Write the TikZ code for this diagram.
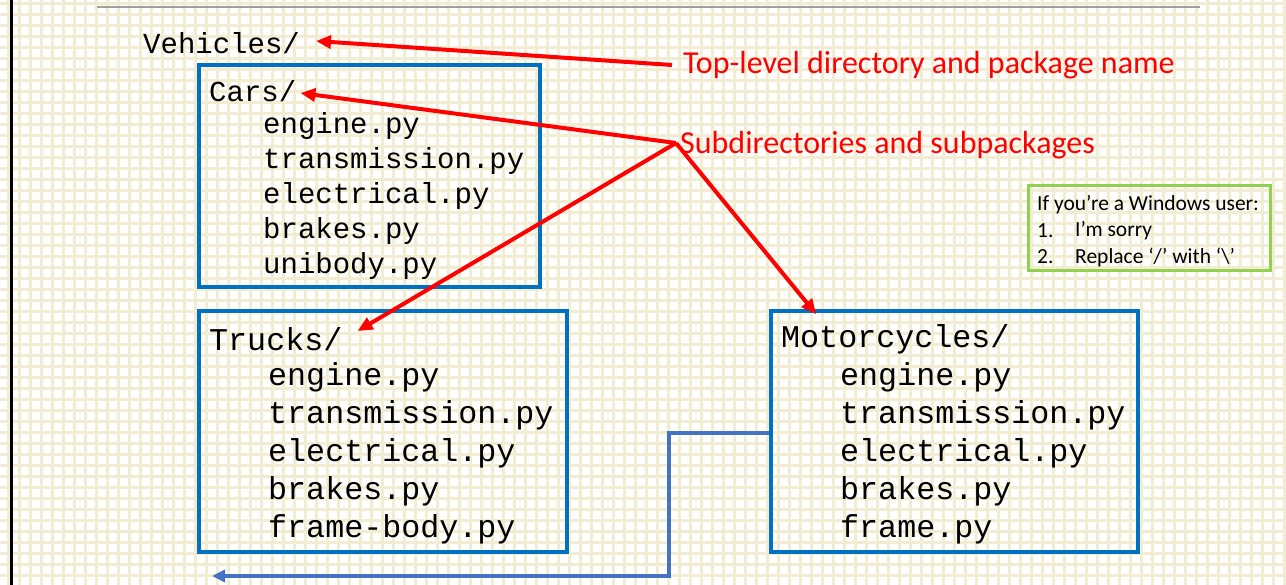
\documentclass[tikz,border=0pt]{standalone}
\usepackage{fontspec}
\setmainfont{Carlito}
\newfontfamily\codefont{Liberation Mono}
\usetikzlibrary{arrows.meta,calc}
\definecolor{gridbeige}{RGB}{242,237,210}
\definecolor{boxblue}{RGB}{0,112,192}
\definecolor{linkblue}{RGB}{68,114,196}
\definecolor{notegreen}{RGB}{146,208,80}
\definecolor{rulegray}{RGB}{160,160,160}
\begin{document}
\begin{tikzpicture}[x=1pt,y=-1pt,
  codesmall/.style={font=\codefont\fontsize{29}{29}\selectfont, anchor=west, inner sep=0pt},
  codebig/.style={font=\codefont\fontsize{31.7}{31.7}\selectfont, anchor=west, inner sep=0pt},
  dirbox/.style={draw=boxblue, line width=3.6pt, inner sep=0pt},
  redlabel/.style={font=\fontsize{32}{32}\selectfont, text=red, anchor=west, inner sep=0pt},
  notetext/.style={font=\fontsize{21.5}{21.5}\selectfont, anchor=west, inner sep=0pt},
  redarrow/.style={draw=red, line width=4pt, -{Triangle[length=15pt,width=13pt]}},
  linkarrow/.style={draw=linkblue, line width=3.6pt, -{Triangle[length=13pt,width=12pt]}},
]
\useasboundingbox (0,0) rectangle (1286,585);
\fill[white] (0,0) rectangle (1286,585);
% grid
\foreach \i in {0,...,117} \draw[gridbeige, line width=2.6pt] (8.3+11*\i,0) -- (8.3+11*\i,585);
\foreach \j in {0,...,53} \draw[gridbeige, line width=2.6pt] (0,3.5+11*\j) -- (1286,3.5+11*\j);
\draw[black, line width=3pt] (11,0) -- (11,585);
\draw[rulegray, line width=2pt] (97,7) -- (1200,7);

% boxes
\node[dirbox, minimum width=341pt, minimum height=222pt] (carsbox) at (369.5,176) {};
\node[dirbox, minimum width=368pt, minimum height=241pt] (trucksbox) at (383,431.5) {};
\node[dirbox, minimum width=367pt, minimum height=241pt] (motobox) at (954.5,431.5) {};
\node[draw=notegreen, line width=3pt, minimum width=242pt, minimum height=85pt, inner sep=0pt] (notebox) at (1149,228.5) {};

% top-level
\node[codesmall] (vehicles) at (143,43) {Vehicles/};

% cars
\node[codesmall] (carsdir) at (209,91) {Cars/};
\node[codesmall] (c1) at (263,126) {engine.py};
\node[codesmall] (c2) at (263,161) {transmission.py};
\node[codesmall] (c3) at (263,196) {electrical.py};
\node[codesmall] (c4) at (263,231) {brakes.py};
\node[codesmall] (c5) at (263,266) {unibody.py};

% trucks
\node[codebig] (trucksdir) at (209,339) {Trucks/};
\node[codebig] (t1) at (268,377) {engine.py};
\node[codebig] (t2) at (268,415) {transmission.py};
\node[codebig] (t3) at (268,453) {electrical.py};
\node[codebig] (t4) at (268,491) {brakes.py};
\node[codebig] (t5) at (268,529) {frame-body.py};

% motorcycles
\node[codebig] (motodir) at (781,339) {Motorcycles/};
\node[codebig] (m1) at (840,377) {engine.py};
\node[codebig] (m2) at (840,415) {transmission.py};
\node[codebig] (m3) at (840,453) {electrical.py};
\node[codebig] (m4) at (840,491) {brakes.py};
\node[codebig] (m5) at (840,529) {frame.py};

% red labels
\node[redlabel] (toplabel) at (683,65) {Top-level directory and package name};
\node[redlabel] (sublabel) at (680,145) {Subdirectories and subpackages};

% note
\node[notetext] (n0) at (1037,205) {If you’re a Windows user:};
\node[notetext] (n1a) at (1037,231) {1.};
\node[notetext] (n1b) at (1075,231) {I’m sorry};
\node[notetext] (n2a) at (1037,257) {2.};
\node[notetext] (n2b) at (1075,257) {Replace ‘/’ with ‘\textbackslash’};

% red arrows
\draw[redarrow] ($(toplabel.west)+(-11,0)$) -- ($(vehicles.east)+(16,-2)$);
\draw[redarrow] ($(sublabel.west)+(-4,-2)$) -- ($(carsdir.east)+(4,2)$);
\draw[redarrow] ($(sublabel.west)+(-4,-2)$) -- ($(trucksdir.east)+(15,-8)$);
\draw[redarrow] ($(sublabel.west)+(-4,-2)$) -- ($(motobox.north west)+(47,5)$);

% blue link
\coordinate (lkend) at (212,576);
\draw[linkarrow] ($(motobox.west)+(0,1.5)$) -- (669,433) -- (669,576) -- (lkend);
\end{tikzpicture}
\end{document}
